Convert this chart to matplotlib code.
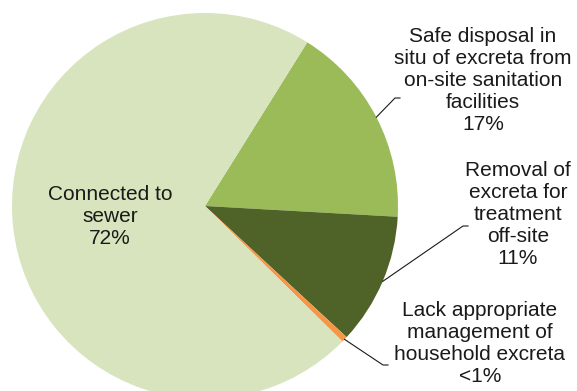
import numpy as np
import matplotlib.pyplot as plt

plt.rcParams['font.family'] = ['Liberation Sans', 'DejaVu Sans']

# slices, clockwise from the top-right
labels = ["Safe disposal in\nsitu of excreta from\non-site sanitation\nfacilities",
          "Removal of\nexcreta for\ntreatment\noff-site",
          "Lack appropriate\nmanagement of\nhousehold excreta",
          "Connected to\nsewer"]
values = [17, 11, 0.5, 71.5]
pct_labels = ["17%", "11%", "<1%", "72%"]
colors = ["#9BBB59", "#4F6228", "#F79646", "#D7E4BD"]

W, H = 577, 391
fig = plt.figure(figsize=(W / 100, H / 100), dpi=100)
ax = fig.add_axes([0, 0, 1, 1])

cx, cy, r = 205, 185, 193
wedges, _ = ax.pie(values, colors=colors, startangle=58, counterclock=False,
                   center=(cx, cy), radius=r, frame=True,
                   wedgeprops=dict(linewidth=0))
ax.set_xlim(0, W)
ax.set_ylim(0, H)
ax.set_aspect('equal')
ax.axis('off')

# label positions (text centre) and elbow points of leader lines
txt_pos = [(483, 311), (518, 176), (480, 47), (110, 174)]
elbows = [((395, 293), (400, 293)), ((463, 165), (468, 165)),
          ((383, 26), (388, 26)), None]

for w, lab, pct, tp, el in zip(wedges, labels, pct_labels, txt_pos, elbows):
    ax.text(tp[0], tp[1], lab + "\n" + pct, ha='center', va='center',
            fontsize=15, color='#1a1a1a', linespacing=1.2)
    if el is not None:
        mid = np.deg2rad((w.theta1 + w.theta2) / 2)
        px, py = cx + r * np.cos(mid), cy + r * np.sin(mid)
        ax.plot([px, el[0][0], el[1][0]], [py, el[0][1], el[1][1]],
                color='#1a1a1a', lw=0.8)

# chart title, almost entirely cut off at the top edge as in the source
fig.text(292 / W, 1 - 0.5 / H, "Destination of excreta", ha='center',
         va='baseline', fontsize=15, color='#8c8c8c')

fig.savefig("out.png", dpi=100)
